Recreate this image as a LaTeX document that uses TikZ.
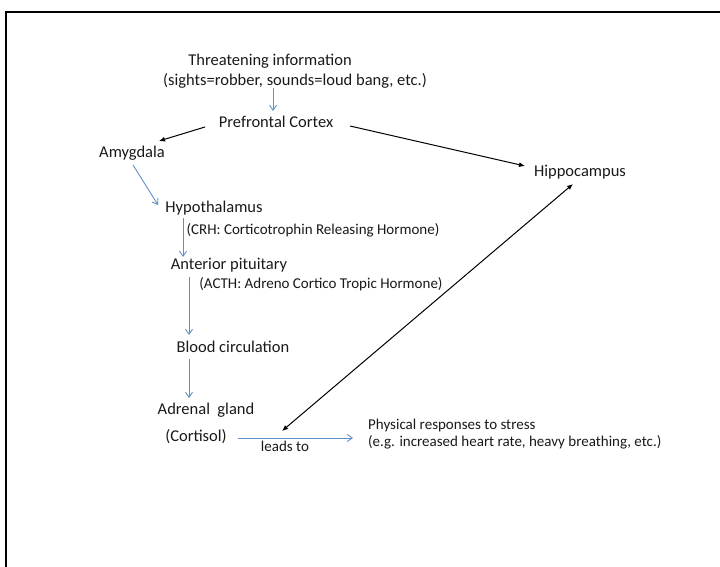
\documentclass[tikz,border=0pt]{standalone}
\usepackage{fontspec}
\setmainfont{Carlito}
\usetikzlibrary{arrows.meta}
\definecolor{arrblue}{RGB}{96,144,200}
\definecolor{txt}{RGB}{25,25,25}
\tikzset{
  lbl/.style={inner sep=0pt, text=txt, font=\fontsize{16.5}{19}\selectfont},
  small/.style={inner sep=0pt, text=txt, font=\fontsize{15}{18}\selectfont},
  bluearr/.style={draw=arrblue, line width=0.9pt, -{Straight Barb[length=5pt,width=7pt]}},
  blackarr/.style={draw=black, line width=1pt, -{Latex[length=6pt,width=5pt]}},
}
\begin{document}
\begin{tikzpicture}[x=1pt,y=-1pt]
\useasboundingbox (0,0) rectangle (720,567);
\draw[line width=2.5pt] (6,567) -- (6,12) -- (720,12);

\node[lbl] (thr) at (270,61) {Threatening information};
\node[lbl] (sights) at (295,81) {(sights=robber, sounds=loud bang, etc.)};
\node[lbl] (pfc) at (276,122) {Prefrontal Cortex};
\node[lbl] (amy) at (132,153) {Amygdala};
\node[lbl] (hip) at (580,172) {Hippocampus};
\node[lbl] (hyp) at (214,208) {Hypothalamus};
\node[small] (crh) at (313,230) {(CRH: Corticotrophin Releasing Hormone)};
\node[lbl] (ant) at (229,265) {Anterior pituitary};
\node[small] (acth) at (321,284) {(ACTH: Adreno Cortico Tropic Hormone)};
\node[lbl] (blood) at (233,347) {Blood circulation};
\node[lbl] (adr) at (206,410) {Adrenal\ \ gland};
\node[lbl] (cort) at (196,437) {(Cortisol)};
\node[small] (leads) at (285,446) {leads to};
\node[small, anchor=west] (phys) at (368,425) {Physical responses to stress};
\node[small, anchor=west] (eg) at (368,442) {(e.g. increased heart rate, heavy breathing, etc.)};

\coordinate (c1) at (273,88);
\coordinate (c2) at (273,111);
\draw[bluearr] (c1) -- (c2);
\coordinate (b1) at (205,127);
\coordinate (b2) at (159,141);
\draw[blackarr] (b1) -- (b2);
\coordinate (b3) at (350,126);
\coordinate (b4) at (525,166);
\draw[blackarr] (b3) -- (b4);
\coordinate (c3) at (133,165);
\coordinate (c4) at (158,205);
\draw[bluearr] (c3) -- (c4);
\coordinate (c5) at (183,218);
\coordinate (c6) at (183,257);
\draw[bluearr] (c5) -- (c6);
\coordinate (c7) at (189,277);
\coordinate (c8) at (189,335);
\draw[bluearr] (c7) -- (c8);
\coordinate (c9) at (189,359);
\coordinate (c10) at (189,398);
\draw[bluearr] (c9) -- (c10);
\coordinate (c11) at (238,438);
\coordinate (c12) at (353,438);
\draw[bluearr] (c11) -- (c12);
\coordinate (d1) at (282,431);
\coordinate (d2) at (573,184);
\draw[blackarr, {Latex[length=6pt,width=5pt]}-{Latex[length=6pt,width=5pt]}] (d1) -- (d2);
\end{tikzpicture}
\end{document}
